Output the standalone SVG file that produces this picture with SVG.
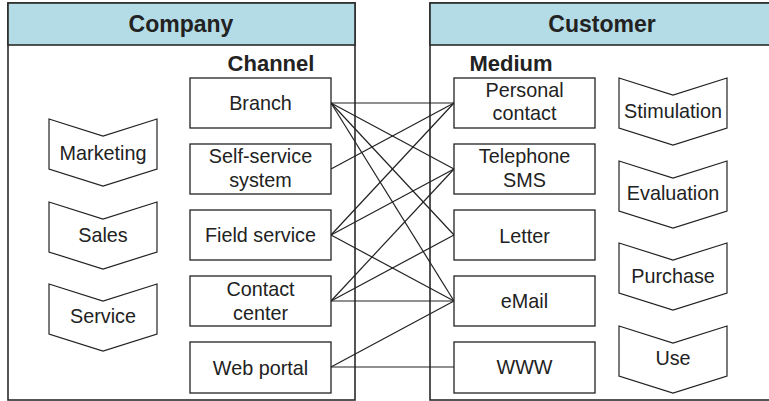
<svg xmlns="http://www.w3.org/2000/svg" xmlns:xlink="http://www.w3.org/1999/xlink" width="769" height="401" viewBox="0 0 769 401">
<style>
  .panel{fill:#fff;stroke:#2a2a2a;stroke-width:1.6}
  .hdr{fill:#b4dce6;stroke:#2a2a2a;stroke-width:1.6}
  .box{fill:#fff;stroke:#222;stroke-width:1.3}
  .chev{fill:#fff;stroke:#222;stroke-width:1.2}
  .t{font-family:"Liberation Sans",Arial,Helvetica,sans-serif;font-size:19.8px;fill:#222;text-anchor:middle}
  .h{font-family:"Liberation Sans",Arial,Helvetica,sans-serif;font-weight:bold;fill:#222;text-anchor:middle}
  .c line{stroke:#222;stroke-width:1.2}
</style>
<defs>
  <path id="chev" class="chev" d="M0,0 L54,17 L108,0 L108,50 L54,67 L0,50 Z"/>
</defs>
<rect width="769" height="401" fill="#fff"/>

<g id="company">
  <rect class="panel" x="8" y="3" width="347" height="397"/>
  <rect class="hdr" x="8" y="3" width="347" height="42"/>
  <text class="h" x="181" y="32" font-size="23">Company</text>
  <text class="h" x="271" y="71" font-size="22">Channel</text>
</g>
<g id="customer">
  <rect class="panel" x="430" y="3" width="345" height="397"/>
  <rect class="hdr" x="430" y="3" width="345" height="42"/>
  <text class="h" x="602" y="32" font-size="23">Customer</text>
  <text class="h" x="511" y="71" font-size="22">Medium</text>
</g>

<g id="connectors" class="c">
  <line x1="331" y1="103" x2="454" y2="103"/>
  <line x1="331" y1="103" x2="454" y2="169"/>
  <line x1="331" y1="103" x2="454" y2="235"/>
  <line x1="331" y1="103" x2="454" y2="301"/>
  <line x1="331" y1="169" x2="454" y2="103"/>
  <line x1="331" y1="235" x2="454" y2="103"/>
  <line x1="331" y1="235" x2="454" y2="169"/>
  <line x1="331" y1="235" x2="454" y2="301"/>
  <line x1="331" y1="301" x2="454" y2="169"/>
  <line x1="331" y1="301" x2="454" y2="235"/>
  <line x1="331" y1="301" x2="454" y2="301"/>
  <line x1="331" y1="367" x2="454" y2="301"/>
  <line x1="331" y1="367" x2="454" y2="367"/>
</g>

<g id="marketing"><use xlink:href="#chev" x="49" y="119"/><text class="t" x="103" y="160">Marketing</text></g>
<g id="sales"><use xlink:href="#chev" x="49" y="202"/><text class="t" x="103" y="242">Sales</text></g>
<g id="service"><use xlink:href="#chev" x="49" y="284"/><text class="t" x="103" y="323">Service</text></g>

<g id="branch"><rect class="box" x="190" y="78" width="141" height="50"/><text class="t" x="260.5" y="110">Branch</text></g>
<g id="self-service"><rect class="box" x="190" y="144" width="141" height="50"/><text class="t" x="260.5" y="163">Self-service</text><text class="t" x="260.5" y="187">system</text></g>
<g id="field-service"><rect class="box" x="190" y="210" width="141" height="50"/><text class="t" x="260.5" y="242">Field service</text></g>
<g id="contact-center"><rect class="box" x="190" y="276" width="141" height="50"/><text class="t" x="260.5" y="296">Contact</text><text class="t" x="260.5" y="320">center</text></g>
<g id="web-portal"><rect class="box" x="190" y="342" width="141" height="51"/><text class="t" x="260.5" y="375">Web portal</text></g>

<g id="personal-contact"><rect class="box" x="454" y="78" width="141" height="50"/><text class="t" x="524.5" y="97">Personal</text><text class="t" x="524.5" y="120">contact</text></g>
<g id="telephone-sms"><rect class="box" x="454" y="144" width="141" height="50"/><text class="t" x="524.5" y="163">Telephone</text><text class="t" x="524.5" y="187">SMS</text></g>
<g id="letter"><rect class="box" x="454" y="210" width="141" height="50"/><text class="t" x="524.5" y="243">Letter</text></g>
<g id="email"><rect class="box" x="454" y="276" width="141" height="50"/><text class="t" x="524.5" y="308">eMail</text></g>
<g id="www"><rect class="box" x="454" y="342" width="141" height="51"/><text class="t" x="524.5" y="374">WWW</text></g>

<g id="stimulation"><use xlink:href="#chev" x="619" y="78"/><text class="t" x="673" y="118">Stimulation</text></g>
<g id="evaluation"><use xlink:href="#chev" x="619" y="161"/><text class="t" x="673" y="200">Evaluation</text></g>
<g id="purchase"><use xlink:href="#chev" x="619" y="243"/><text class="t" x="673" y="283">Purchase</text></g>
<g id="use"><use xlink:href="#chev" x="619" y="326"/><text class="t" x="673" y="365">Use</text></g>
</svg>
